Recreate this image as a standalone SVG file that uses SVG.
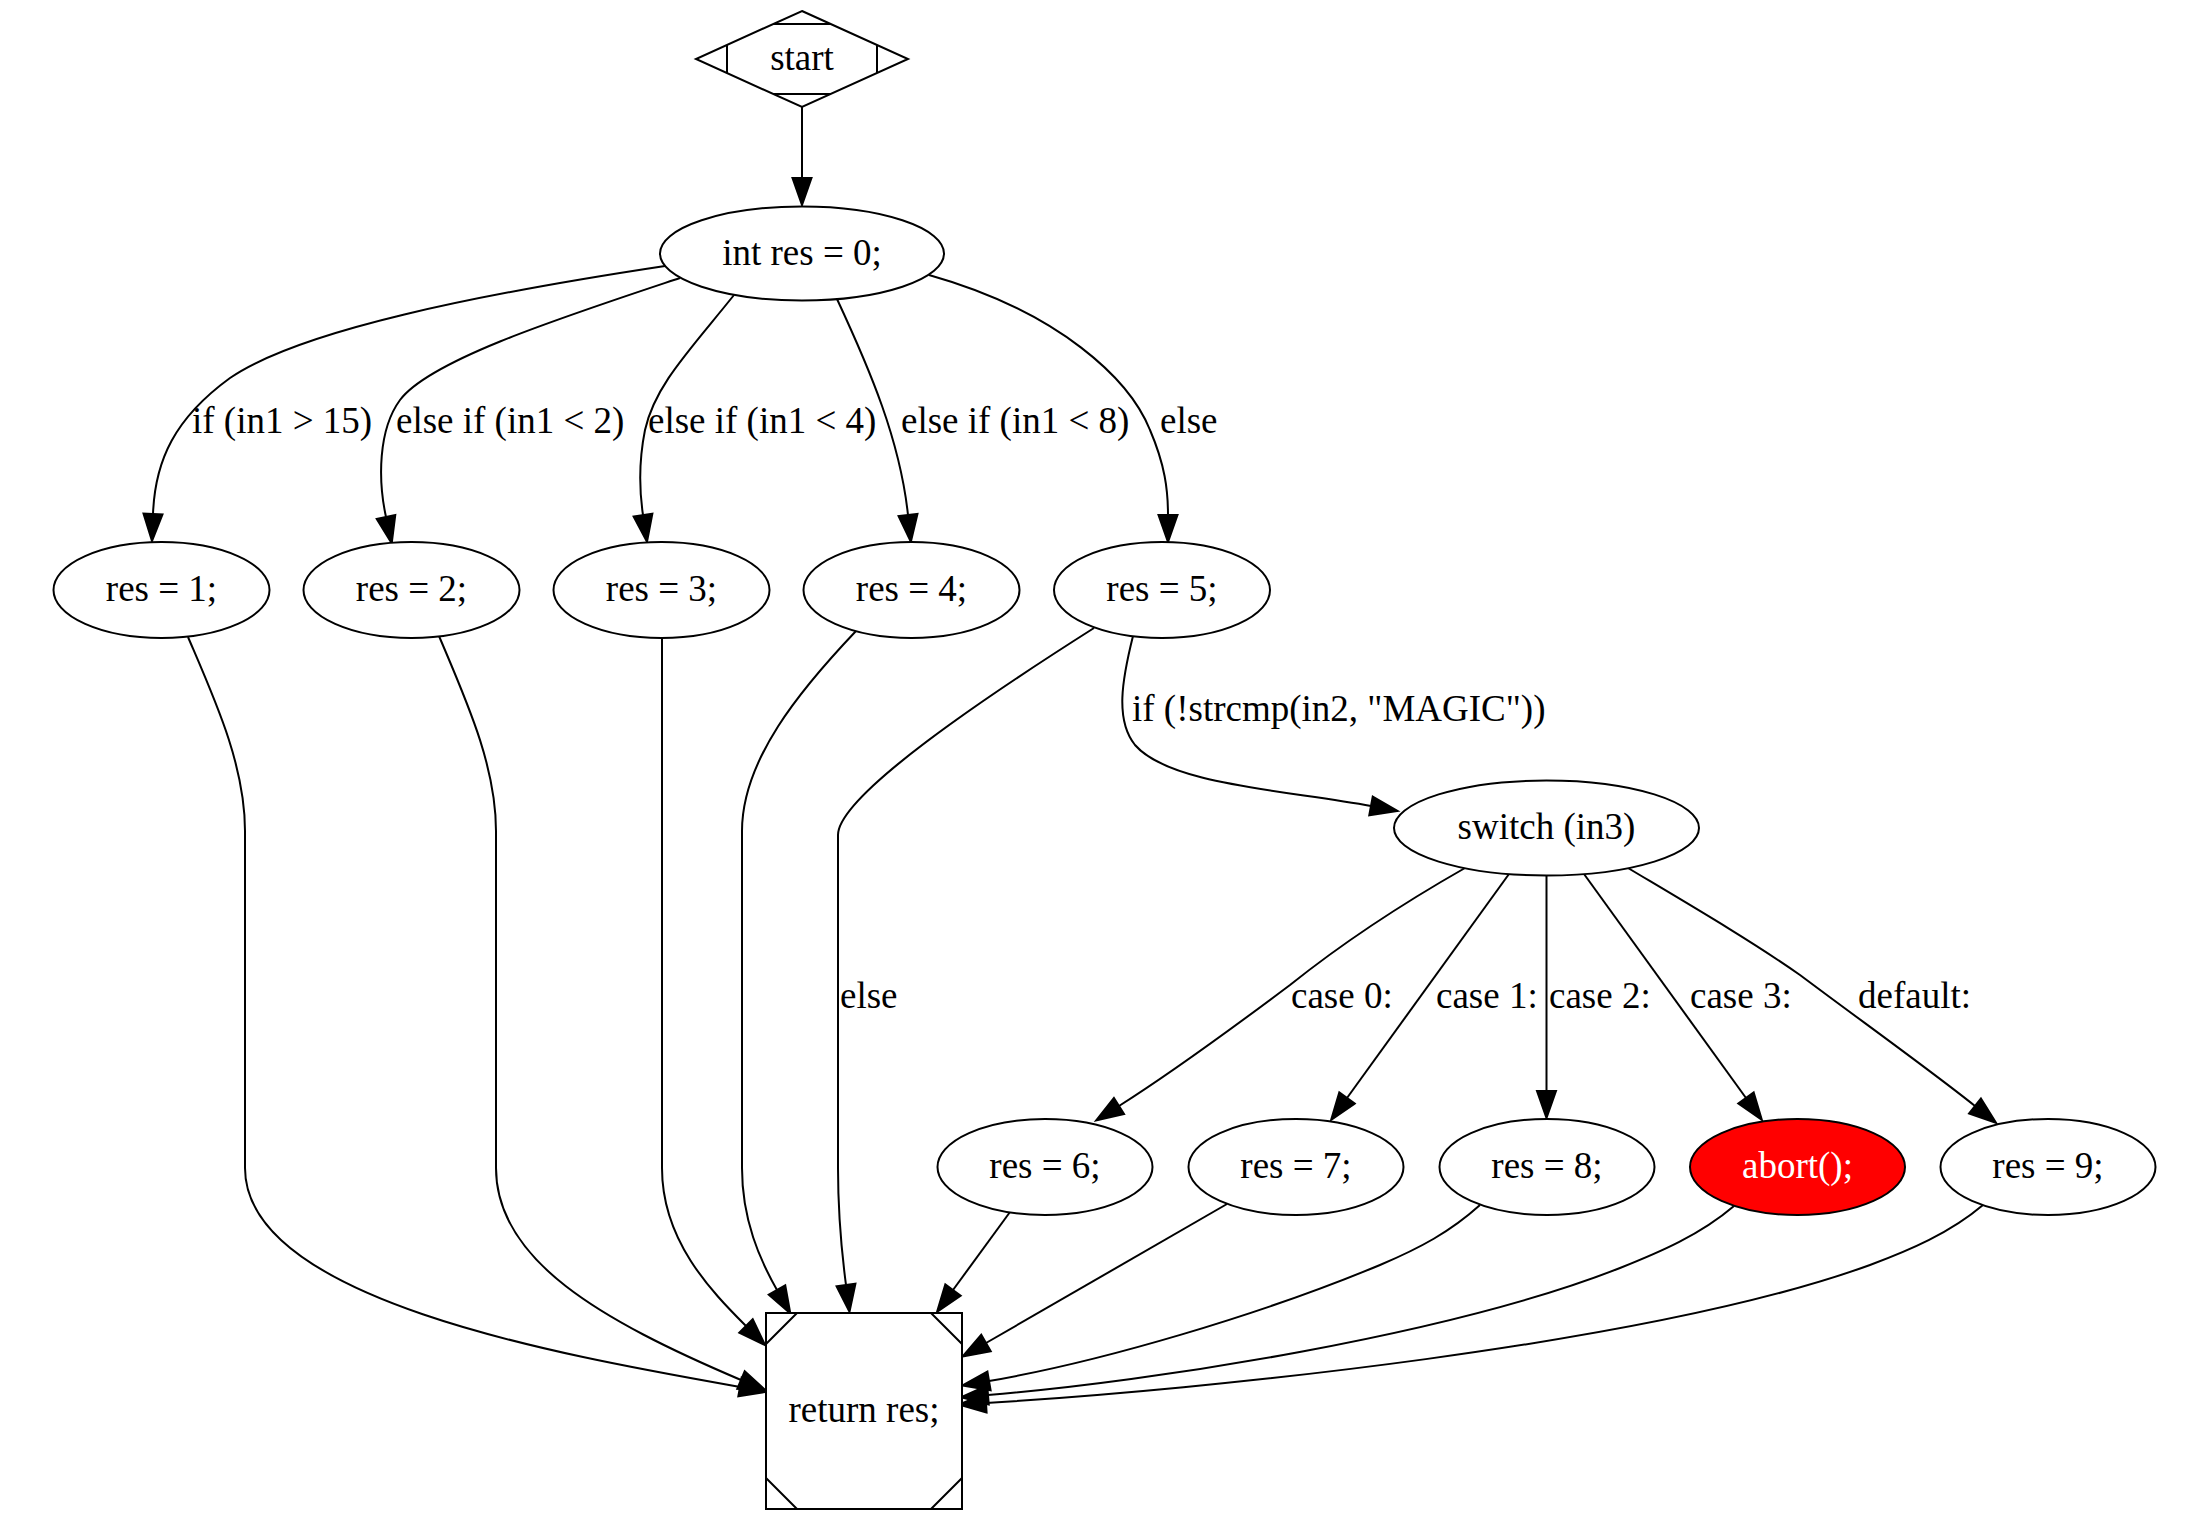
<svg xmlns="http://www.w3.org/2000/svg" width="2208" height="1520" viewBox="0 0 2208 1520">
<style>
.n{fill:#ffffff;stroke:#000000;stroke-width:2}
.ab{fill:#ff0000;stroke:#000000;stroke-width:2}
.t{font-family:"Liberation Serif","Times New Roman",serif;font-size:37px;fill:#000000;text-anchor:middle}
.tw{fill:#ffffff}
.l{font-family:"Liberation Serif","Times New Roman",serif;font-size:37px;fill:#000000}
.e{fill:none;stroke:#000000;stroke-width:2;marker-end:url(#arr)}
.d{fill:none;stroke:#000000;stroke-width:2}
</style>
<defs>
<marker id="arr" markerUnits="userSpaceOnUse" viewBox="-2 -12 32 24" markerWidth="32" markerHeight="24" refX="0" refY="0" orient="auto" overflow="visible">
<path d="M0,-9.5 L27,0 L0,9.5 z" fill="#000000" stroke="#000000" stroke-width="2"/>
</marker>
</defs>
<rect x="0" y="0" width="2208" height="1520" fill="#ffffff"/>
<g id="connectors">
<path class="e" d="M802,107 L802,178"/>
<path class="e" d="M665,266 C480,294 300,330 230,378 C175,418 155,460 153,514"/>
<path class="e" d="M680,278 C560,318 430,360 400,400 C378,430 378,480 386,517"/>
<path class="e" d="M734,295 C690,350 655,385 645,430 C638,465 640,495 643,515"/>
<path class="e" d="M837,299 C870,370 900,440 908,515"/>
<path class="e" d="M929,275 C1060,312 1130,380 1150,430 C1165,465 1168,490 1168,515"/>
<path class="e" d="M188,637 C215,700 245,765 245,831 L245,1168 C245,1300 560,1355 740,1387"/>
<path class="e" d="M439,636 C466,700 496,765 496,831 L496,1168 C496,1260 600,1320 741,1380"/>
<path class="e" d="M662,638 L662,1168 C662,1240 710,1290 746,1326"/>
<path class="e" d="M856,631 C800,690 742,760 742,831 L742,1168 C742,1220 760,1260 777,1290"/>
<path class="e" d="M1094,628 C990,694 838,795 838,835 L838,1168 C838,1225 843,1262 846,1285"/>
<path class="e" d="M1133,636 C1122,680 1115,720 1135,745 C1170,785 1285,790 1371,806"/>
<path class="e" d="M1465,868 C1400,905 1340,945 1290,985 C1230,1030 1160,1080 1119,1106"/>
<path class="e" d="M1509,874 L1347,1098"/>
<path class="e" d="M1546.5,876 L1546.5,1091"/>
<path class="e" d="M1584,874 L1746,1098"/>
<path class="e" d="M1628,868 C1690,905 1750,940 1800,975 C1860,1020 1930,1070 1975,1106"/>
<path class="e" d="M1010,1212 L953,1290"/>
<path class="e" d="M1227,1204 L986,1343"/>
<path class="e" d="M1480,1205 C1450,1232 1420,1248 1380,1265 C1260,1315 1100,1362 989,1381"/>
<path class="e" d="M1734,1206 C1700,1235 1660,1252 1620,1268 C1450,1335 1150,1382 988,1395"/>
<path class="e" d="M1983,1205 C1950,1233 1910,1250 1870,1265 C1650,1345 1200,1390 986,1403"/>
<text class="l" x="192" y="433">if (in1 &gt; 15)</text>
<text class="l" x="396" y="433">else if (in1 &lt; 2)</text>
<text class="l" x="648" y="433">else if (in1 &lt; 4)</text>
<text class="l" x="901" y="433">else if (in1 &lt; 8)</text>
<text class="l" x="1160" y="433">else</text>
<text class="l" x="1132" y="721">if (!strcmp(in2, "MAGIC"))</text>
<text class="l" x="840" y="1008">else</text>
<text class="l" x="1291" y="1008">case 0:</text>
<text class="l" x="1436" y="1008">case 1:</text>
<text class="l" x="1549" y="1008">case 2:</text>
<text class="l" x="1690" y="1008">case 3:</text>
<text class="l" x="1858" y="1008">default:</text>
</g>
<g id="start">
<polygon class="n" points="802,11 908,59 802,107 696,59"/>
<path class="d" d="M773,24 L831,24 M773,94 L831,94 M727,45 L727,73 M877,45 L877,73"/>
<text class="t" x="802" y="70">start</text>
</g>
<g id="init">
<ellipse class="n" cx="802" cy="253.5" rx="142" ry="47"/>
<text class="t" x="802" y="265">int res = 0;</text>
</g>
<g id="res1">
<ellipse class="n" cx="161.5" cy="590" rx="108" ry="48"/>
<text class="t" x="161.5" y="601">res = 1;</text>
</g>
<g id="res2">
<ellipse class="n" cx="411.5" cy="590" rx="108" ry="48"/>
<text class="t" x="411.5" y="601">res = 2;</text>
</g>
<g id="res3">
<ellipse class="n" cx="661.5" cy="590" rx="108" ry="48"/>
<text class="t" x="661.5" y="601">res = 3;</text>
</g>
<g id="res4">
<ellipse class="n" cx="911.5" cy="590" rx="108" ry="48"/>
<text class="t" x="911.5" y="601">res = 4;</text>
</g>
<g id="res5">
<ellipse class="n" cx="1162" cy="590" rx="108" ry="48"/>
<text class="t" x="1162" y="601">res = 5;</text>
</g>
<g id="switch">
<ellipse class="n" cx="1546.5" cy="828" rx="152.5" ry="47.5"/>
<text class="t" x="1546.5" y="839">switch (in3)</text>
</g>
<g id="res6">
<ellipse class="n" cx="1045" cy="1167" rx="107.5" ry="48"/>
<text class="t" x="1045" y="1178">res = 6;</text>
</g>
<g id="res7">
<ellipse class="n" cx="1296" cy="1167" rx="107.5" ry="48"/>
<text class="t" x="1296" y="1178">res = 7;</text>
</g>
<g id="res8">
<ellipse class="n" cx="1547" cy="1167" rx="107.5" ry="48"/>
<text class="t" x="1547" y="1178">res = 8;</text>
</g>
<g id="abort">
<ellipse class="ab" cx="1797.5" cy="1167" rx="107.5" ry="48"/>
<text class="t tw" x="1797.5" y="1178">abort();</text>
</g>
<g id="res9">
<ellipse class="n" cx="2048" cy="1167" rx="107.5" ry="48"/>
<text class="t" x="2048" y="1178">res = 9;</text>
</g>
<g id="return">
<rect class="n" x="766" y="1313" width="196" height="196"/>
<path class="d" d="M797,1313 L766,1344 M931,1313 L962,1344 M766,1478 L797,1509 M962,1478 L931,1509"/>
<text class="t" x="864" y="1422">return res;</text>
</g>
</svg>
